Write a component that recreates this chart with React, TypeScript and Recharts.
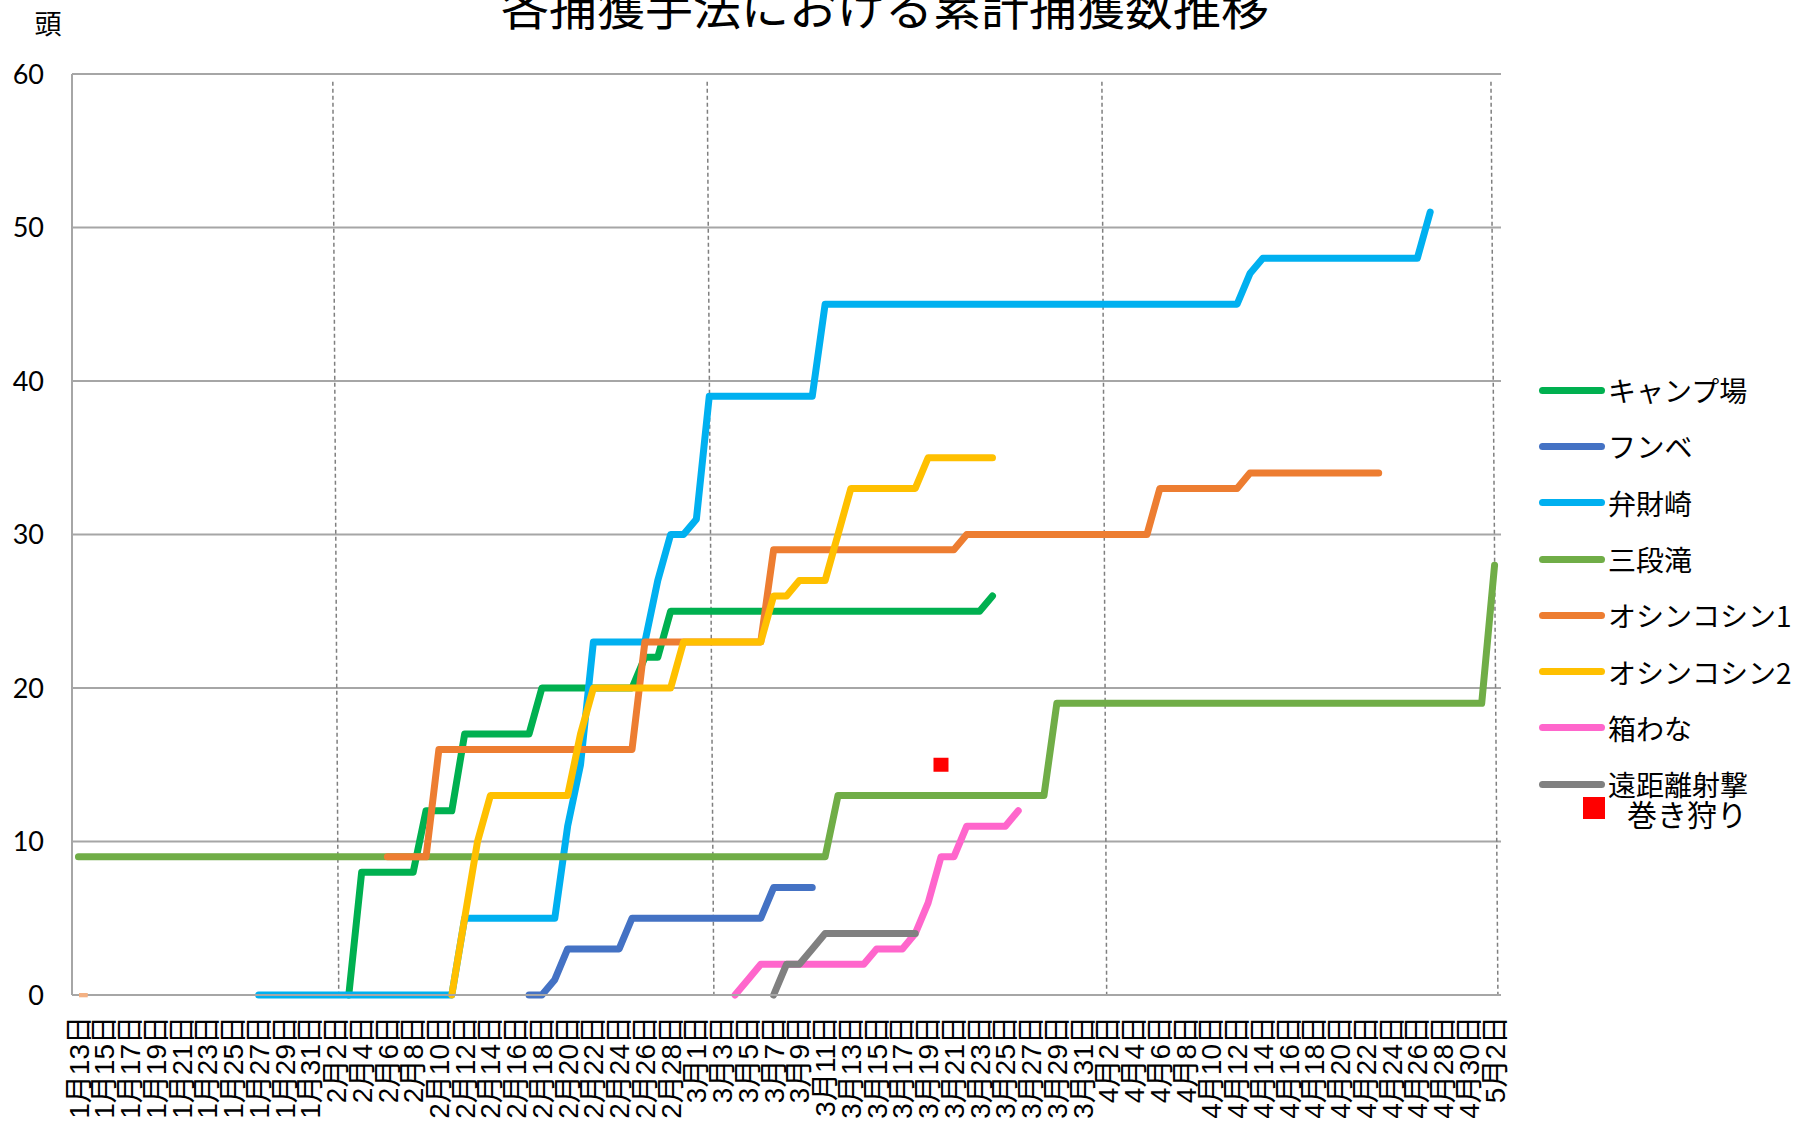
import React from 'react';
import {
  ComposedChart,
  Line,
  Scatter,
  XAxis,
  YAxis,
  CartesianGrid,
  Legend,
  ReferenceLine,
} from 'recharts';

// 日付（1月13日〜5月2日、うるう年）
const dates = [
  '1月13日', '1月14日', '1月15日', '1月16日', '1月17日', '1月18日', '1月19日', '1月20日', '1月21日', '1月22日',
  '1月23日', '1月24日', '1月25日', '1月26日', '1月27日', '1月28日', '1月29日', '1月30日', '1月31日',
  '2月1日', '2月2日', '2月3日', '2月4日', '2月5日', '2月6日', '2月7日', '2月8日', '2月9日', '2月10日',
  '2月11日', '2月12日', '2月13日', '2月14日', '2月15日', '2月16日', '2月17日', '2月18日', '2月19日', '2月20日',
  '2月21日', '2月22日', '2月23日', '2月24日', '2月25日', '2月26日', '2月27日', '2月28日', '2月29日',
  '3月1日', '3月2日', '3月3日', '3月4日', '3月5日', '3月6日', '3月7日', '3月8日', '3月9日', '3月10日',
  '3月11日', '3月12日', '3月13日', '3月14日', '3月15日', '3月16日', '3月17日', '3月18日', '3月19日', '3月20日',
  '3月21日', '3月22日', '3月23日', '3月24日', '3月25日', '3月26日', '3月27日', '3月28日', '3月29日', '3月30日',
  '3月31日',
  '4月1日', '4月2日', '4月3日', '4月4日', '4月5日', '4月6日', '4月7日', '4月8日', '4月9日', '4月10日',
  '4月11日', '4月12日', '4月13日', '4月14日', '4月15日', '4月16日', '4月17日', '4月18日', '4月19日', '4月20日',
  '4月21日', '4月22日', '4月23日', '4月24日', '4月25日', '4月26日', '4月27日', '4月28日', '4月29日', '4月30日',
  '5月1日', '5月2日',
];

// 各系列：開始日と、その日からの累計値
const campStart = '2月3日';
const campValues = [
  0, 8, 8, 8, 8, 8, 12, 12, 12, 17,
  17, 17, 17, 17, 17, 20, 20, 20, 20, 20,
  20, 20, 20, 22, 22, 25, 25, 25, 25, 25,
  25, 25, 25, 25, 25, 25, 25, 25, 25, 25,
  25, 25, 25, 25, 25, 25, 25, 25, 25, 25,
  26,
];

const funbeStart = '2月17日';
const funbeValues = [
  0, 0, 1, 3, 3, 3, 3, 3, 5, 5,
  5, 5, 5, 5, 5, 5, 5, 5, 5, 7,
  7, 7, 7,
];

const benzaiStart = '1月27日';
const benzaiValues = [
  0, 0, 0, 0, 0, 0, 0, 0, 0, 0,
  0, 0, 0, 0, 0, 0, 5, 5, 5, 5,
  5, 5, 5, 5, 11, 15, 23, 23, 23, 23,
  23, 27, 30, 30, 31, 39, 39, 39, 39, 39,
  39, 39, 39, 39, 45, 45, 45, 45, 45, 45,
  45, 45, 45, 45, 45, 45, 45, 45, 45, 45,
  45, 45, 45, 45, 45, 45, 45, 45, 45, 45,
  45, 45, 45, 45, 45, 45, 45, 47, 48, 48,
  48, 48, 48, 48, 48, 48, 48, 48, 48, 48,
  48, 51,
];

const sandanStart = '1月13日';
const sandanValues = [
  9, 9, 9, 9, 9, 9, 9, 9, 9, 9,
  9, 9, 9, 9, 9, 9, 9, 9, 9, 9,
  9, 9, 9, 9, 9, 9, 9, 9, 9, 9,
  9, 9, 9, 9, 9, 9, 9, 9, 9, 9,
  9, 9, 9, 9, 9, 9, 9, 9, 9, 9,
  9, 9, 9, 9, 9, 9, 9, 9, 9, 13,
  13, 13, 13, 13, 13, 13, 13, 13, 13, 13,
  13, 13, 13, 13, 13, 13, 19, 19, 19, 19,
  19, 19, 19, 19, 19, 19, 19, 19, 19, 19,
  19, 19, 19, 19, 19, 19, 19, 19, 19, 19,
  19, 19, 19, 19, 19, 19, 19, 19, 19, 19,
  28,
];

const oshin1Start = '2月6日';
const oshin1Values = [
  9, 9, 9, 9, 16, 16, 16, 16, 16, 16,
  16, 16, 16, 16, 16, 16, 16, 16, 16, 16,
  23, 23, 23, 23, 23, 23, 23, 23, 23, 23,
  29, 29, 29, 29, 29, 29, 29, 29, 29, 29,
  29, 29, 29, 29, 29, 30, 30, 30, 30, 30,
  30, 30, 30, 30, 30, 30, 30, 30, 30, 30,
  33, 33, 33, 33, 33, 33, 33, 34, 34, 34,
  34, 34, 34, 34, 34, 34, 34, 34,
];

const oshin2Start = '2月11日';
const oshin2Values = [
  0, 5, 10, 13, 13, 13, 13, 13, 13, 13,
  17, 20, 20, 20, 20, 20, 20, 20, 23, 23,
  23, 23, 23, 23, 23, 26, 26, 27, 27, 27,
  30, 33, 33, 33, 33, 33, 33, 35, 35, 35,
  35, 35, 35,
];

const hakoStart = '3月4日';
const hakoValues = [
  0, 1, 2, 2, 2, 2, 2, 2, 2, 2,
  2, 3, 3, 3, 4, 6, 9, 9, 11, 11,
  11, 11, 12,
];

const enkyoriStart = '3月7日';
const enkyoriValues = [0, 2, 2, 3, 4, 4, 4, 4, 4, 4, 4, 4];

// 巻き狩り（単発）
const makigariDates = ['3月20日'];
const makigariValues = [15];

// 左下の小さな印
const stubDates = ['1月13日'];
const stubValues = [0];

const yTicks = [0, 10, 20, 30, 40, 50, 60];

const jpFont = '"Noto Sans CJK JP", "Noto Sans", sans-serif';
const numFont = 'Lato, "Noto Sans", sans-serif';

const seriesList = [
  { key: 'camp', name: 'キャンプ場', color: '#00B050', start: campStart, values: campValues },
  { key: 'funbe', name: 'フンベ', color: '#4472C4', start: funbeStart, values: funbeValues },
  { key: 'benzai', name: '弁財崎', color: '#00B0F0', start: benzaiStart, values: benzaiValues },
  { key: 'sandan', name: '三段滝', color: '#70AD47', start: sandanStart, values: sandanValues },
  { key: 'oshin1', name: 'オシンコシン1', color: '#ED7D31', start: oshin1Start, values: oshin1Values },
  { key: 'oshin2', name: 'オシンコシン2', color: '#FFC000', start: oshin2Start, values: oshin2Values },
  { key: 'hako', name: '箱わな', color: '#FF66CC', start: hakoStart, values: hakoValues },
  { key: 'enkyori', name: '遠距離射撃', color: '#808080', start: enkyoriStart, values: enkyoriValues },
];

const rows = dates.map((date, idx) => {
  const row: Record<string, any> = { idx, date };
  seriesList.forEach((s) => {
    const k = idx - dates.indexOf(s.start);
    row[s.key] = k >= 0 && k < s.values.length ? s.values[k] : null;
  });
  return row;
});

const makigariPoints = makigariDates.map((d, i) => ({ idx: dates.indexOf(d), value: makigariValues[i] }));
const stubPoints = stubDates.map((d, i) => ({ idx: dates.indexOf(d), value: stubValues[i] }));

const xTicks = dates.map((_, i) => i).filter((i) => i % 2 === 0);

// 月の区切り（手描きの点線、少し傾いている）
const monthLines = [
  { top: 19.76, bottom: 20.22 },
  { top: 48.84, bottom: 49.36 },
  { top: 79.5, bottom: 79.87 },
  { top: 109.72, bottom: 110.26 },
];

const DateTick = (props: any) => {
  const { x, y, payload } = props;
  return (
    <text
      transform={`translate(${x},${y}) rotate(-90)`}
      textAnchor="end"
      dy="0.36em"
      fontSize={28}
      fontFamily={'"Liberation Sans", "Noto Sans CJK JP", sans-serif'}
      fill="#000"
    >
      {dates[payload.value]}
    </text>
  );
};

const renderLegend = (props: any) => {
  const payload: any[] = props.payload || [];
  const order = seriesList.map((s) => s.name);
  const lines = payload
    .filter((p) => p.type === 'line')
    .sort((a, b) => order.indexOf(a.value) - order.indexOf(b.value));
  const squares = payload.filter((p) => p.type === 'square');
  return (
    <div style={{ width: 258, fontFamily: jpFont, color: '#000' }}>
      {lines.map((p) => (
        <div key={p.value} style={{ display: 'flex', alignItems: 'center', height: 56.3 }}>
          <div style={{ width: 66, height: 7, borderRadius: 4, background: p.color }} />
          <span style={{ marginLeft: 3, fontSize: 28, lineHeight: 1, whiteSpace: 'nowrap' }}>{p.value}</span>
        </div>
      ))}
      {squares.map((p) => (
        <div
          key={p.value}
          style={{ display: 'flex', alignItems: 'center', marginTop: -15, marginLeft: 44, height: 22 }}
        >
          <div style={{ width: 22, height: 22, background: p.color }} />
          <span style={{ marginLeft: 22, fontSize: 30, lineHeight: 1, paddingTop: 10, whiteSpace: 'nowrap' }}>
            {p.value}
          </span>
        </div>
      ))}
    </div>
  );
};

export default function App() {
  return (
    <div style={{ position: 'absolute', left: 0, top: 0, width: 1797, height: 1129, background: '#fff', fontFamily: jpFont }}>
      <ComposedChart width={1797} height={1129} data={rows} margin={{ top: 74, right: 296, bottom: 0, left: 0 }}>
        <CartesianGrid vertical={false} stroke="#A6A6A6" strokeWidth={2} />
        <XAxis
          type="number"
          dataKey="idx"
          domain={[-0.5, 110.5]}
          ticks={xTicks}
          interval={0}
          height={134}
          axisLine={{ stroke: '#A6A6A6', strokeWidth: 2 }}
          tickLine={false}
          tickSize={0}
          tickMargin={21}
          tick={<DateTick />}
        />
        <YAxis
          type="number"
          domain={[0, 60]}
          ticks={yTicks}
          interval={0}
          width={72}
          axisLine={{ stroke: '#A6A6A6', strokeWidth: 2 }}
          tickLine={false}
          tickSize={0}
          tickMargin={28}
          tick={{ fontSize: 27, fill: '#000', fontFamily: numFont }}
        />
        {monthLines.map((m, i) => (
          <ReferenceLine
            key={`m-${i}`}
            segment={[{ x: m.top, y: 59.5 }, { x: m.bottom, y: 0 }]}
            stroke="#7F7F7F"
            strokeWidth={1.5}
            strokeDasharray="4 3"
            ifOverflow="visible"
          />
        ))}
        {seriesList.map((s) => (
          <Line
            key={s.key}
            type="linear"
            dataKey={s.key}
            name={s.name}
            stroke={s.color}
            strokeWidth={7}
            strokeLinecap="round"
            strokeLinejoin="round"
            dot={false}
            activeDot={false}
            legendType="line"
            isAnimationActive={false}
          />
        ))}
        <Scatter
          data={stubPoints}
          dataKey="value"
          name="stub"
          legendType="none"
          fill="#F4B183"
          isAnimationActive={false}
          shape={(p: any) => <rect x={p.cx + 0.6} y={p.cy - 2} width={8.7} height={4.3} fill="#F4B183" />}
        />
        <Scatter
          data={makigariPoints}
          dataKey="value"
          name="巻き狩り"
          legendType="square"
          fill="#FF0000"
          isAnimationActive={false}
          shape={(p: any) => <rect x={p.cx - 7.5} y={p.cy - 7} width={15} height={14} fill="#FF0000" />}
        />
        <Legend
          layout="vertical"
          align="center"
          verticalAlign="middle"
          wrapperStyle={{ left: 1539, top: 362, width: 258 }}
          content={renderLegend}
        />
      </ComposedChart>
      <svg
        width={1797}
        height={1129}
        style={{ position: 'absolute', left: 0, top: 0, pointerEvents: 'none' }}
      >
        <text x={885} y={25} textAnchor="middle" fontSize={48} fontFamily={jpFont} fill="#000">
          各捕獲手法における累計捕獲数推移
        </text>
        <text x={48} y={22} textAnchor="middle" dominantBaseline="central" fontSize={27} fontFamily={jpFont} fill="#000">
          頭
        </text>
      </svg>
    </div>
  );
}
